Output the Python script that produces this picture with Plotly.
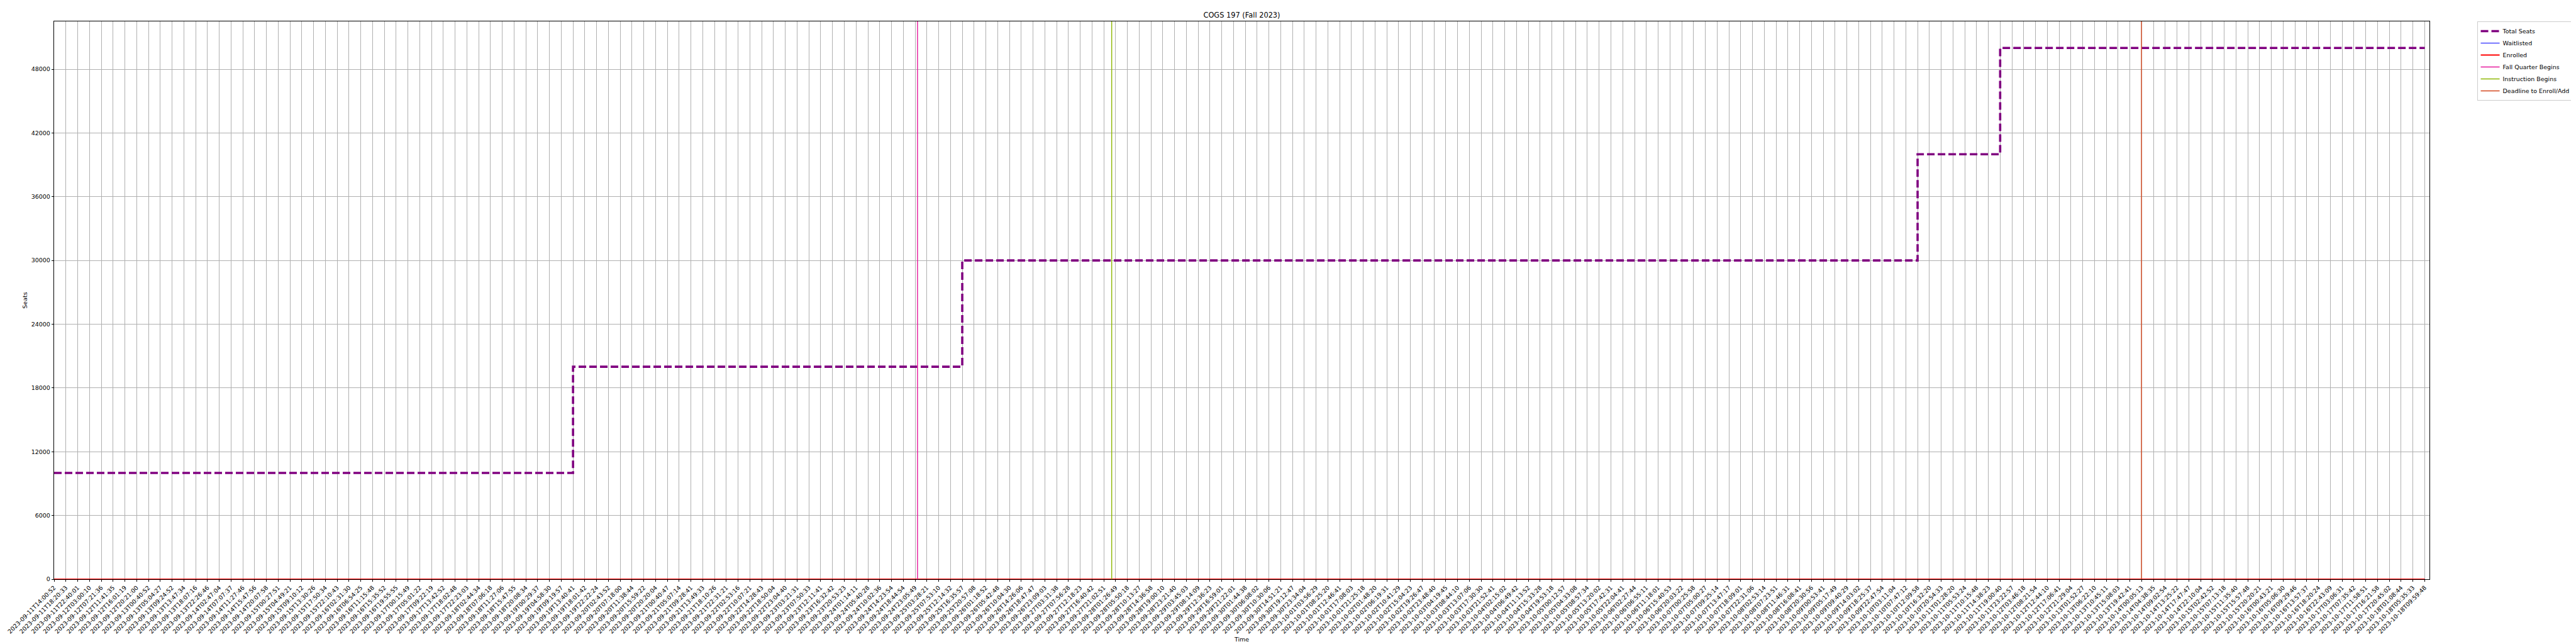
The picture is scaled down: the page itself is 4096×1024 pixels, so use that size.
import numpy as np
import pandas as pd
import plotly.graph_objects as go

# ---------------- data ----------------
TIMESTAMPS = [
    "2023-09-11T14:00:52", "2023-09-11T18:20:33", "2023-09-11T22:40:01", "2023-09-12T03:00:10",
    "2023-09-12T07:21:36", "2023-09-12T11:41:35", "2023-09-12T16:01:19", "2023-09-12T20:21:00",
    "2023-09-13T00:40:52", "2023-09-13T05:04:27", "2023-09-13T09:24:52", "2023-09-13T13:47:34",
    "2023-09-13T18:07:16", "2023-09-13T22:26:46", "2023-09-14T02:47:04", "2023-09-14T07:07:37",
    "2023-09-14T11:27:46", "2023-09-14T15:47:56", "2023-09-14T20:07:58", "2023-09-15T00:27:51",
    "2023-09-15T04:49:21", "2023-09-15T09:10:12", "2023-09-15T13:30:26", "2023-09-15T17:50:34",
    "2023-09-15T22:10:43", "2023-09-16T02:31:30", "2023-09-16T06:54:25", "2023-09-16T11:15:48",
    "2023-09-16T15:35:52", "2023-09-16T19:55:55", "2023-09-17T00:15:49", "2023-09-17T05:01:22",
    "2023-09-17T09:22:19", "2023-09-17T13:42:52", "2023-09-17T18:02:48", "2023-09-17T22:23:03",
    "2023-09-18T02:44:34", "2023-09-18T07:06:18", "2023-09-18T11:27:06", "2023-09-18T15:47:55",
    "2023-09-18T20:08:34", "2023-09-19T00:29:37", "2023-09-19T04:58:30", "2023-09-19T09:19:57",
    "2023-09-19T13:40:41", "2023-09-19T18:01:42", "2023-09-19T22:22:24", "2023-09-20T02:43:52",
    "2023-09-20T07:18:00", "2023-09-20T11:38:44", "2023-09-20T15:59:22", "2023-09-20T20:20:04",
    "2023-09-21T00:40:47", "2023-09-21T05:07:14", "2023-09-21T09:28:41", "2023-09-21T13:49:33",
    "2023-09-21T18:10:26", "2023-09-21T22:31:21", "2023-09-22T02:53:16", "2023-09-22T10:07:21",
    "2023-09-22T14:28:43", "2023-09-22T18:50:04", "2023-09-22T23:04:40", "2023-09-23T03:21:31",
    "2023-09-23T07:50:33", "2023-09-23T12:11:41", "2023-09-23T16:32:42", "2023-09-23T20:53:23",
    "2023-09-24T01:14:11", "2023-09-24T05:40:28", "2023-09-24T10:02:36", "2023-09-24T14:23:54",
    "2023-09-24T18:44:54", "2023-09-24T23:05:49", "2023-09-25T03:28:21", "2023-09-25T07:53:10",
    "2023-09-25T12:14:32", "2023-09-25T16:35:57", "2023-09-25T20:57:08", "2023-09-26T01:18:52",
    "2023-09-26T05:42:48", "2023-09-26T10:04:30", "2023-09-26T14:26:06", "2023-09-26T18:47:47",
    "2023-09-26T23:09:03", "2023-09-27T03:31:38", "2023-09-27T07:56:28", "2023-09-27T12:18:23",
    "2023-09-27T16:40:42", "2023-09-27T21:02:51", "2023-09-28T01:26:49", "2023-09-28T05:50:18",
    "2023-09-28T10:13:27", "2023-09-28T14:36:58", "2023-09-28T19:00:10", "2023-09-28T23:21:40",
    "2023-09-29T03:45:03", "2023-09-29T08:14:09", "2023-09-29T12:36:23", "2023-09-29T16:59:01",
    "2023-09-29T21:22:01", "2023-09-30T01:44:38", "2023-09-30T06:08:02", "2023-09-30T10:30:06",
    "2023-09-30T14:51:21", "2023-09-30T19:12:47", "2023-09-30T23:34:04", "2023-10-01T03:56:29",
    "2023-10-01T08:25:20", "2023-10-01T12:46:41", "2023-10-01T17:08:03", "2023-10-01T21:25:18",
    "2023-10-02T01:48:20", "2023-10-02T06:19:31", "2023-10-02T10:41:29", "2023-10-02T15:04:23",
    "2023-10-02T19:26:47", "2023-10-02T23:48:40", "2023-10-03T04:19:45", "2023-10-03T08:44:10",
    "2023-10-03T13:07:06", "2023-10-03T17:30:30", "2023-10-03T21:52:41", "2023-10-04T02:15:02",
    "2023-10-04T06:49:42", "2023-10-04T11:13:52", "2023-10-04T15:33:28", "2023-10-04T19:53:18",
    "2023-10-05T00:12:57", "2023-10-05T04:33:08", "2023-10-05T08:57:34", "2023-10-05T13:20:02",
    "2023-10-05T17:42:31", "2023-10-05T22:04:41", "2023-10-06T02:27:44", "2023-10-06T06:55:11",
    "2023-10-06T11:18:01", "2023-10-06T15:40:53", "2023-10-06T20:03:22", "2023-10-07T00:25:58",
    "2023-10-07T05:00:27", "2023-10-07T09:25:14", "2023-10-07T13:47:17", "2023-10-07T18:09:01",
    "2023-10-07T22:31:06", "2023-10-08T02:53:14", "2023-10-08T07:23:51", "2023-10-08T11:46:31",
    "2023-10-08T16:08:41", "2023-10-08T20:30:56", "2023-10-09T00:53:41", "2023-10-09T05:17:49",
    "2023-10-09T09:40:29", "2023-10-09T14:03:02", "2023-10-09T18:25:37", "2023-10-09T22:47:54",
    "2023-10-10T03:11:04", "2023-10-10T07:47:12", "2023-10-10T12:09:58", "2023-10-10T16:32:20",
    "2023-10-10T20:54:33", "2023-10-11T01:28:20", "2023-10-11T05:53:24", "2023-10-11T10:15:48",
    "2023-10-11T14:38:23", "2023-10-11T19:00:40", "2023-10-11T23:22:57", "2023-10-12T03:46:18",
    "2023-10-12T08:21:54", "2023-10-12T12:44:10", "2023-10-12T17:06:41", "2023-10-12T21:29:04",
    "2023-10-13T01:52:27", "2023-10-13T06:22:10", "2023-10-13T10:45:11", "2023-10-13T15:08:03",
    "2023-10-13T19:42:41", "2023-10-14T00:05:13", "2023-10-14T04:38:35", "2023-10-14T09:02:54",
    "2023-10-14T13:25:22", "2023-10-14T17:47:47", "2023-10-14T22:10:04", "2023-10-15T02:42:52",
    "2023-10-15T07:13:18", "2023-10-15T11:35:40", "2023-10-15T15:57:48", "2023-10-15T20:20:21",
    "2023-10-16T00:43:21", "2023-10-16T05:06:30", "2023-10-16T09:29:46", "2023-10-16T13:57:37",
    "2023-10-16T18:20:24", "2023-10-16T22:43:09", "2023-10-17T03:06:31", "2023-10-17T07:35:42",
    "2023-10-17T11:58:51", "2023-10-17T16:21:58", "2023-10-17T20:45:02", "2023-10-18T01:08:44",
    "2023-10-18T05:35:33", "2023-10-18T09:59:48",
]

# Total seats: level and the first snapshot at which that level appears
SEAT_LEVELS = [10000, 20000, 30000, 40000, 50000]
SEAT_LEVEL_STARTS = ["2023-09-11T14:00:52", "2023-09-19T13:40:41", "2023-09-25T16:35:57",
                     "2023-10-10T12:09:58", "2023-10-11T19:00:40"]
ENROLLED_COUNT = 0
WAITLISTED_COUNT = 0

EVENT_NAMES = ["Fall Quarter Begins", "Instruction Begins", "Deadline to Enroll/Add"]
EVENT_DATES = ["2023-09-25 00:00:00", "2023-09-28 00:00:00", "2023-10-14 00:00:00"]
EVENT_COLORS = ["#e6179b", "#8db600", "#d4461d"]

# ---------------- derived ----------------
n = len(TIMESTAMPS)
idx = np.arange(n)
ts_ns = np.array([pd.Timestamp(t).value for t in TIMESTAMPS], dtype=float)
level_start_idx = [TIMESTAMPS.index(t) for t in SEAT_LEVEL_STARTS]
total_seats = [SEAT_LEVELS[int(np.searchsorted(level_start_idx, i, side="right")) - 1] for i in idx]
enrolled = [ENROLLED_COUNT for _ in idx]
waitlisted = [WAITLISTED_COUNT for _ in idx]
event_x = [float(np.interp(pd.Timestamp(d).value, ts_ns, idx)) for d in EVENT_DATES]

Y_TOP = max(SEAT_LEVELS) * 1.05
S = 0.682
FONT = "DejaVu Sans"
fs = 13.9 * S

fig = go.Figure()
fig.add_trace(go.Scatter(x=idx, y=total_seats, mode="lines", name="Total Seats",
                         line=dict(color="#800080", width=3.6, dash="12px,5px", shape="hv")))
fig.add_trace(go.Scatter(x=idx, y=waitlisted, mode="lines", name="Waitlisted",
                         line=dict(color="#0000ff", width=1.0, shape="hv")))
fig.add_trace(go.Scatter(x=idx, y=enrolled, mode="lines", name="Enrolled",
                         line=dict(color="#ff0000", width=1.9, shape="hv")))
for name, xv, col in zip(EVENT_NAMES, event_x, EVENT_COLORS):
    fig.add_trace(go.Scatter(x=[xv, xv], y=[0, Y_TOP], mode="lines", name=name,
                             line=dict(color=col, width=1.4)))

plot_left, plot_right = 78, 3878.5
plot_top, plot_bottom = 25.6, 913.4
W, H = 4096, 1024

fig.update_layout(
    width=W, height=H, autosize=False,
    paper_bgcolor="white", plot_bgcolor="white",
    margin=dict(l=plot_left, r=W - plot_right, t=plot_top, b=H - plot_bottom, pad=0),
    font=dict(family=FONT, size=fs, color="black"),
    title=dict(text="COGS 197 (Fall 2023)", x=0.5, xref="paper", xanchor="center",
               y=1 - 16.0 / H, yref="container", yanchor="middle",
               font=dict(family=FONT, size=16.7 * S, color="black")),
    showlegend=True,
    legend=dict(x=1.02, y=1.0, xanchor="left", yanchor="top",
                bgcolor="rgba(255,255,255,0.8)", bordercolor="#cccccc", borderwidth=1,
                font=dict(family=FONT, size=fs, color="black"), traceorder="normal"),
)

fig.update_xaxes(
    range=[0, n - 1 + 0.4], tickmode="array", tickvals=list(idx), ticktext=TIMESTAMPS,
    tickangle=-45, tickfont=dict(family=FONT, size=fs, color="black"),
    ticks="outside", ticklen=3.3, tickwidth=0.8, tickcolor="black",
    showgrid=True, gridcolor="#b0b0b0", gridwidth=0.8,
    showline=True, linecolor="black", linewidth=1, mirror=True,
    zeroline=False, automargin=False,
    title=dict(text="Time", font=dict(family=FONT, size=fs, color="black"), standoff=4),
)
fig.update_yaxes(
    range=[0, Y_TOP], tickmode="linear", tick0=0, dtick=6000, tickformat="d",
    tickfont=dict(family=FONT, size=fs, color="black"),
    ticks="outside", ticklen=3.3, tickwidth=0.8, tickcolor="black",
    showgrid=True, gridcolor="#b0b0b0", gridwidth=0.8,
    showline=True, linecolor="black", linewidth=1, mirror=True,
    zeroline=False, automargin=False,
    title=dict(text="Seats", font=dict(family=FONT, size=fs, color="black"), standoff=4),
)

fig.write_html("out.html")
